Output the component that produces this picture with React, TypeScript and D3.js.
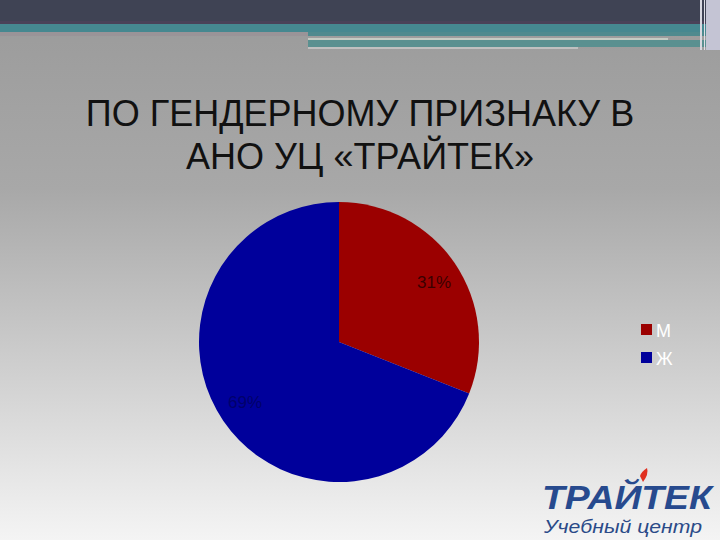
import React from "react";
import * as d3 from "d3";

const categories = ["М", "Ж"];
const values = [31, 69];
const colors = ["#9b0000", "#00009b"];
const labels = ["31%", "69%"];
const titleLines = ["ПО ГЕНДЕРНОМУ ПРИЗНАКУ В", "АНО УЦ «ТРАЙТЕК»"];

export default function App() {
  const W = 720, H = 540;
  const cx = 339, cy = 342, r = 140;
  const pie = d3.pie<number>().sort(null).value(d => d)(values);
  const arc = d3.arc<d3.PieArcDatum<number>>().innerRadius(0).outerRadius(r);
  const labelPos = [[434, 284], [245, 404]];
  return (
    <svg width={W} height={H} style={{ position: "absolute", left: 0, top: 0 }}>
      <defs>
        <linearGradient id="bg" x1="0" y1="0" x2="0" y2="1">
          <stop offset="0" stopColor="#9a9a9a" />
          <stop offset="0.35" stopColor="#a8a8a8" />
          <stop offset="1" stopColor="#f4f4f4" />
        </linearGradient>
      </defs>
      <rect x={0} y={0} width={W} height={H} fill="url(#bg)" />
      <rect x={0} y={0} width={W} height={23} fill="#3f4354" />
      <rect x={0} y={21} width={W} height={3} fill="#4a4258" />
      <rect x={0} y={24} width={W} height={8} fill="#468890" />
      <rect x={0} y={32} width={308} height={4} fill="#9a9498" />
      <rect x={308} y={32} width={400} height={4} fill="#4f8a8e" />
      <rect x={308} y={38} width={360} height={2} fill="#c4ccc4" />
      <rect x={308} y={40} width={400} height={7} fill="#5a9090" />
      <rect x={308} y={47} width={270} height={2} fill="#c0c0c0" />
      <rect x={706} y={0} width={14} height={50} fill="#c4c4d4" />
      <rect x={700} y={0} width={2} height={50} fill="#d8d8e0" />
      <rect x={704} y={0} width={1} height={50} fill="#e0e0e8" />

      {titleLines.map((t, i) => (
        <text key={i} x={360} y={126 + i * 43} textAnchor="middle"
          fontFamily="Liberation Sans, Arial, sans-serif" fontSize={36} fill="#111111">{t}</text>
      ))}

      <g transform={`translate(${cx},${cy})`}>
        {pie.map((d, i) => (
          <path key={i} d={arc(d) || ""} fill={colors[i]} />
        ))}
      </g>
      {pie.map((d, i) => (
        <text key={i} x={labelPos[i][0]} y={labelPos[i][1]} textAnchor="middle" dominantBaseline="middle"
          fontFamily="Liberation Sans, Arial, sans-serif" fontSize={17} fill={i === 0 ? "#3a0000" : "#00006a"}>{labels[i]}</text>
      ))}

      {categories.map((c, i) => (
        <g key={c}>
          <rect x={641} y={324 + i * 28} width={11} height={11} fill={colors[i]} />
          <text x={656} y={337 + i * 28} fontFamily="Liberation Sans, Arial, sans-serif" fontSize={18} fill="#ffffff">{c}</text>
        </g>
      ))}

      <g>
        <text x={542} y={509} fontFamily="Liberation Sans, Arial, sans-serif"
          fontWeight="bold" fontStyle="italic" fontSize={34} fill="#274a8e"
          textLength={170} lengthAdjust="spacingAndGlyphs">ТРАЙТЕК</text>
        <path d="M643 482 q6 -8 4 -14 q-6 4 -7 8 z" fill="#e03020" />
        <text x={544} y={533} fontFamily="Liberation Sans, Arial, sans-serif"
          fontStyle="italic" fontSize={19} fill="#2a4a88" textLength={158} lengthAdjust="spacingAndGlyphs">Учебный центр</text>
      </g>
    </svg>
  );
}
